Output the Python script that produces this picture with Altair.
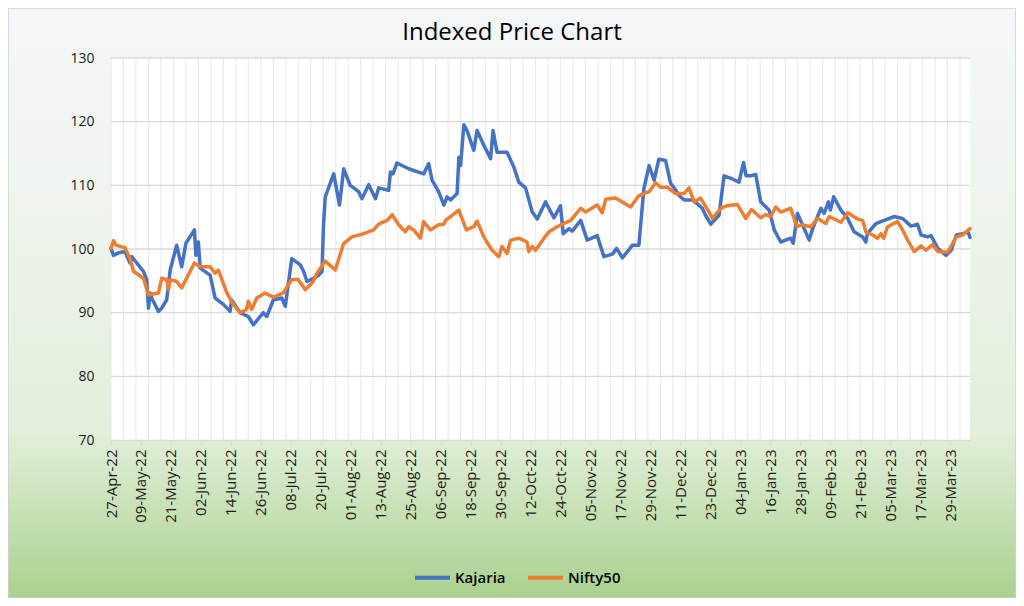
import altair as alt
import pandas as pd

START = "2022-04-27"
END = "2023-04-06"

# Day offsets from 27-Apr-22 and indexed values
kajaria_day = [0, 1, 3, 5.6, 7.6, 8.3, 10.3, 13, 14.3, 15, 15.7, 16.3, 19, 20.3, 22.3, 23.7, 26.3, 28.3, 30,
               33.4, 34, 35, 35.7, 39.7, 41.7, 45, 47.7, 48.3, 51.7, 55, 57, 61, 62.4, 65, 68.4, 69.8, 72.4,
               75.8, 77.1, 78.5, 83, 84.5, 85.1, 85.8, 89.2, 91.5, 93.2, 95.8, 99.2, 100.5, 103.2, 105.9,
               107.2, 111.2, 111.9, 112.9, 114.5, 119.2, 125.2, 127.2, 128.6, 131.2, 133.3, 134.6, 136,
               138.6, 139.3, 140, 141.3, 142.6, 145.3, 146.6, 149.3, 152, 153, 154.6, 158.6, 161.3, 163.3,
               166, 168.7, 170.7, 174, 177.4, 180, 181.1, 183.4, 184.7, 188.1, 190.7, 194.7, 197.4, 200.8,
               202.5, 204.8, 208.8, 211.4, 213.4, 215.5, 217.5, 219.4, 222.1, 224.1, 225.7, 227.5, 229.5,
               232.8, 234.8, 236.8, 238.1, 240.2, 243.5, 245.5, 248.8, 251.5, 253.3, 254.3, 256.2, 258.2,
               260.2, 263.6, 265.6, 268.2, 272.2, 273.2, 274.9, 276.9, 279.6, 281, 284.3, 285.6, 287.3,
               288.1, 289.4, 292.3, 295, 297.6, 301, 302.3, 302.9, 306.3, 308.3, 311, 313.6, 317, 320.4,
               323, 324.4, 327.1, 328.4, 331.1, 334.4, 336.5, 338.5, 341.1, 343.2, 344]
kajaria_val = [100.1, 99.0, 99.4, 99.6, 97.8, 98.8, 97.8, 96.5, 95.2, 90.7, 93.1, 92.3, 90.2, 90.7, 92.0,
               96.7, 100.6, 97.2, 100.9, 103.0, 99.0, 101.1, 97.0, 95.9, 92.3, 91.3, 90.2, 92.0, 90.0,
               89.4, 88.1, 90.0, 89.4, 92.0, 92.3, 91.0, 98.5, 97.5, 96.5, 94.9, 95.8, 96.5, 103.8, 108.2,
               111.8, 106.9, 112.6, 110.0, 109.0, 107.9, 110.1, 107.9, 109.6, 109.2, 112.1, 111.8, 113.5,
               112.6, 111.8, 113.4, 110.8, 109.0, 106.9, 108.2, 107.7, 108.7, 114.4, 113.1, 119.5, 118.6,
               115.5, 118.6, 116.3, 114.2, 118.6, 115.2, 115.2, 112.9, 110.5, 109.6, 105.8, 104.7, 107.4,
               104.9, 106.8, 102.4, 103.2, 102.8, 104.5, 101.4, 102.1, 98.8, 99.2, 100.1, 98.6, 100.6,
               100.6, 109.5, 113.1, 110.8, 114.1, 113.9, 110.3, 109.5, 108.4, 107.7, 107.7, 107.1, 106.4,
               105.3, 103.9, 105.3, 111.5, 111.0, 110.5, 113.6, 111.5, 111.5, 111.7, 107.4, 106.1, 103.0,
               101.1, 101.7, 100.9, 105.6, 103.8, 101.4, 103.2, 106.4, 105.6, 107.4, 106.1, 108.2, 106.1,
               104.8, 102.7, 101.9, 101.1, 102.4, 104.0, 104.3, 104.7, 105.1, 104.8, 103.6, 103.9, 102.2,
               101.9, 102.1, 100.1, 99.0, 99.8, 102.2, 102.4, 102.7, 101.8]

nifty_day = [0, 1, 2, 5.6, 7.6, 9, 13, 15, 19, 20.3, 22.3, 23, 23.7, 26.3, 28.3, 33.4, 35.7, 39.7, 41.7,
             43, 46.4, 49, 51.7, 54.3, 55, 56.3, 58.4, 61.7, 65, 69, 72.4, 75, 77.8, 81, 82.5, 85.8, 89.8,
             93.2, 96.5, 101.2, 105.2, 107.2, 110.6, 112.6, 115.2, 117.9, 119.2, 121.2, 123.9, 125.2,
             127.9, 131.2, 133.3, 134, 139.3, 142.3, 145.3, 146.6, 149.3, 152.6, 155.3, 156.6, 158.6,
             160, 163.3, 166.6, 167.3, 168.7, 170, 173.4, 175.4, 178.7, 184.1, 188.1, 190.1, 194.7,
             196.7, 198.1, 202.1, 208.1, 211.4, 215.5, 218.1, 220.1, 222.8, 226.1, 229.5, 231.5, 233.5,
             236.1, 239.5, 240.8, 244.2, 246.8, 250.8, 252.2, 254.2, 256.5, 260.2, 262.2, 264.2, 266.2,
             268.2, 272.2, 274.7, 276.5, 280.3, 283, 286.3, 287.6, 292.3, 295, 299, 301, 302.3, 305,
             307, 308.3, 309.4, 311, 315, 317, 319, 321.7, 324.4, 326.4, 329, 331.1, 335.1, 338.5,
             341.1, 344]
nifty_val = [100.1, 101.3, 100.6, 100.2, 98.5, 96.5, 95.4, 92.8, 93.1, 95.4, 95.2, 93.6, 95.2, 94.9, 93.9,
             97.8, 97.2, 97.2, 96.2, 96.7, 93.1, 91.3, 90.0, 90.5, 91.8, 90.5, 92.3, 93.1, 92.4, 93.1,
             95.2, 95.2, 93.6, 94.9, 96.2, 98.1, 96.7, 100.9, 101.9, 102.4, 103.0, 103.9, 104.5, 105.4,
             103.8, 102.7, 103.5, 103.0, 101.7, 104.3, 103.0, 103.8, 103.9, 104.5, 106.1, 103.0, 103.5,
             104.4, 101.9, 99.8, 98.8, 100.4, 99.3, 101.4, 101.7, 101.1, 99.6, 100.4, 99.8, 101.7, 102.7,
             103.5, 104.5, 106.4, 105.8, 106.9, 105.7, 107.8, 108.0, 106.6, 108.4, 109.0, 110.4, 109.7,
             109.7, 108.7, 108.7, 109.6, 107.4, 108.0, 105.8, 104.8, 106.4, 106.8, 107.0, 106.1, 104.8,
             106.2, 104.9, 105.4, 105.1, 106.6, 105.8, 106.4, 103.5, 103.8, 103.5, 104.8, 104.0, 105.1,
             104.2, 105.7, 104.7, 104.5, 102.7, 102.2, 101.7, 102.4, 101.7, 103.5, 104.3, 103.0, 101.4,
             99.6, 100.5, 99.8, 100.7, 99.6, 99.5, 101.9, 102.2, 103.2]

series_names = ["Kajaria", "Nifty50"]
series_colors = ["#4472C4", "#ED7D31"]
chart_title = "Indexed Price Chart"

tick_labels = ["27-Apr-22", "09-May-22", "21-May-22", "02-Jun-22", "14-Jun-22", "26-Jun-22", "08-Jul-22",
               "20-Jul-22", "01-Aug-22", "13-Aug-22", "25-Aug-22", "06-Sep-22", "18-Sep-22", "30-Sep-22",
               "12-Oct-22", "24-Oct-22", "05-Nov-22", "17-Nov-22", "29-Nov-22", "11-Dec-22", "23-Dec-22",
               "04-Jan-23", "16-Jan-23", "28-Jan-23", "09-Feb-23", "21-Feb-23", "05-Mar-23", "17-Mar-23",
               "29-Mar-23"]
y_ticks = [70, 80, 90, 100, 110, 120, 130]

FONT = "Open Sans"
W, H = 859, 382
PL, PT, PR, PB = 103, 50, 46, 158

start = pd.Timestamp(START)
df = pd.concat([
    pd.DataFrame({"date": start + pd.to_timedelta(kajaria_day, unit="D"), "value": kajaria_val,
                  "series": series_names[0]}),
    pd.DataFrame({"date": start + pd.to_timedelta(nifty_day, unit="D"), "value": nifty_val,
                  "series": series_names[1]}),
])

tick_dates = [pd.to_datetime(t, format="%d-%b-%y") for t in tick_labels]
tick_values = [alt.DateTime(year=d.year, month=d.month, date=d.day) for d in tick_dates]
s = pd.Timestamp(START); e = pd.Timestamp(END)
x_scale = alt.Scale(domain=[alt.DateTime(year=s.year, month=s.month, date=s.day),
                            alt.DateTime(year=e.year, month=e.month, date=e.day)])
y_scale = alt.Scale(domain=[70, 130], nice=False)

x_axis = alt.Axis(values=tick_values, format="%d-%b-%y", labelAngle=-90, grid=False, title=None,
                  domainColor="#D9D9D9", domainWidth=1.3, tickColor="#D9D9D9", tickSize=5,
                  tickWidth=1.3, labelFont=FONT, labelFontSize=15, labelColor="#1a1a1a",
                  labelPadding=4, labelOverlap=False, labelFlush=False, zindex=1)
y_axis = alt.Axis(values=y_ticks, grid=False, domain=False, ticks=False, title=None, labelFont=FONT,
                  labelFontSize=14, labelColor="#1a1a1a", labelPadding=17, labelFontWeight=500, zindex=1)

vgrid_df = pd.DataFrame({"date": pd.date_range(START, END, freq="5D")})
hgrid_df = pd.DataFrame({"v": y_ticks[1:]})
one = pd.DataFrame({"label": [chart_title]})

bg = alt.Chart(one).mark_rect(
    fill=alt.LinearGradient(gradient="linear", x1=0, x2=0, y1=0, y2=1, stops=[
        alt.GradientStop(color="#F4F6FA", offset=0),
        alt.GradientStop(color="#EEF4EC", offset=0.35),
        alt.GradientStop(color="#E2EFD9", offset=0.72),
        alt.GradientStop(color="#A9D18E", offset=1)]),
    stroke="#D0D0D0", strokeWidth=1.5
).encode(x=alt.value(-PL), x2=alt.value(W + PR), y=alt.value(-PT), y2=alt.value(H + PB))

title = alt.Chart(one).mark_text(font=FONT, fontSize=24, fontWeight=500, color="#000000",
                                 align="center", baseline="middle").encode(
    text="label:N", x=alt.value(401), y=alt.value(-25))

plot_bg = alt.Chart(one).mark_rect(fill="white").encode(
    x=alt.value(0), x2=alt.value(W), y=alt.value(0), y2=alt.value(H))

vgrid = alt.Chart(vgrid_df).mark_rule(color="#EBEBEB", strokeWidth=1.2).encode(
    x=alt.X("date:T", scale=x_scale, axis=x_axis), y=alt.value(0), y2=alt.value(H))

hgrid = alt.Chart(hgrid_df).mark_rule(color="#D9D9D9", strokeWidth=1.3).encode(
    y=alt.Y("v:Q", scale=y_scale, axis=y_axis), x=alt.value(0), x2=alt.value(W))

lines = alt.Chart(df).mark_line(strokeWidth=3.5, strokeJoin="round", strokeCap="round").encode(
    x=alt.X("date:T", scale=x_scale, axis=x_axis),
    y=alt.Y("value:Q", scale=y_scale, axis=y_axis),
    color=alt.Color("series:N", scale=alt.Scale(domain=series_names, range=series_colors),
                    legend=alt.Legend(orient="none", legendX=302, legendY=500, direction="horizontal",
                                      title=None, symbolType="stroke", symbolSize=1225,
                                      symbolStrokeWidth=4, labelFont=FONT, labelFontSize=15,
                                      labelFontWeight=600, labelColor="#000000", labelOffset=3,
                                      columnPadding=14, padding=0)),
)

chart = alt.layer(bg, title, plot_bg, vgrid, hgrid, lines).properties(
    width=W, height=H,
    autosize=alt.AutoSizeParams(type="none"),
    padding={"left": PL, "top": PT, "right": PR, "bottom": PB},
).configure_view(stroke=None)

chart.save("out.html", embed_options={"renderer": "svg", "actions": False})
